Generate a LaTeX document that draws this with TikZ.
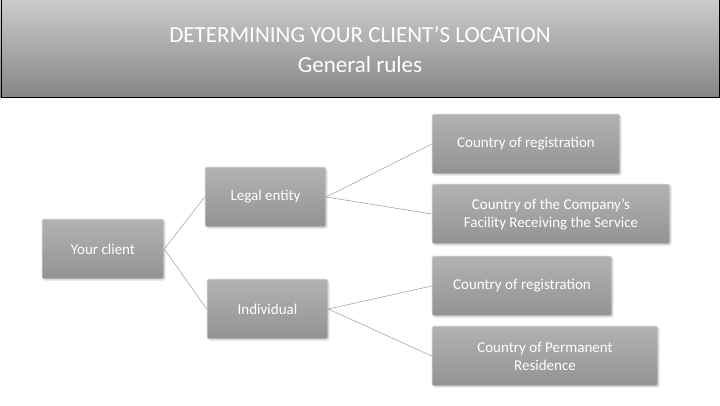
\documentclass[tikz,border=0pt]{standalone}
\usepackage{fontspec}
\setmainfont{Carlito}
\usetikzlibrary{shadows}

\tikzset{
  box/.style={draw=gray!20, line width=0.6pt, rounded corners=2pt, top color=gray!60, bottom color=gray!85,
    text=white, align=center, font=\fontsize{15}{18}\selectfont, inner sep=0pt,
    drop shadow={shadow xshift=1.5pt, shadow yshift=-1.5pt, fill=gray!50}},
  link/.style={draw=gray!70, line width=0.6pt}
}

\begin{document}
\begin{tikzpicture}[x=1pt, y=-1pt]
  \useasboundingbox (0,0) rectangle (720,405);
  % Title band
  \shade[top color=gray!40, bottom color=gray!95] (0,0) rectangle (720,97);
  \draw[black, line width=1pt] (1,0) -- (1,97) -- (719,97) -- (719,0);
  \node[text=white, align=center, font=\fontsize{23}{30}\selectfont] (title) at (360,49)
    {DETERMINING YOUR CLIENT'S LOCATION\\General rules};

  % Boxes
  \node[box, minimum width=122pt, minimum height=60pt] (client) at (103,249) {Your client};
  \node[box, minimum width=121pt, minimum height=60pt] (legal) at (265.5,197) {Legal entity};
  \node[box, minimum width=121pt, minimum height=60pt] (indiv) at (267.5,309) {Individual};
  \node[box, minimum width=188pt, minimum height=60pt] (reg1) at (526,144) {Country of registration};
  \node[box, minimum width=238pt, minimum height=60pt] (facility) at (551,214)
    {Country of the Company's\\Facility Receiving the Service};
  \node[box, minimum width=180pt, minimum height=60pt] (reg2) at (522,286) {Country of registration};
  \node[box, minimum width=226pt, minimum height=60pt] (resid) at (545,356)
    {Country of Permanent\\Residence};

  % Connectors
  \draw[link] (client.east) -- (legal.west);
  \draw[link] (client.east) -- (indiv.west);
  \draw[link] (legal.east) -- (reg1.west);
  \draw[link] (legal.east) -- (facility.west);
  \draw[link] (indiv.east) -- (reg2.west);
  \draw[link] (indiv.east) -- (resid.west);
\end{tikzpicture}
\end{document}
